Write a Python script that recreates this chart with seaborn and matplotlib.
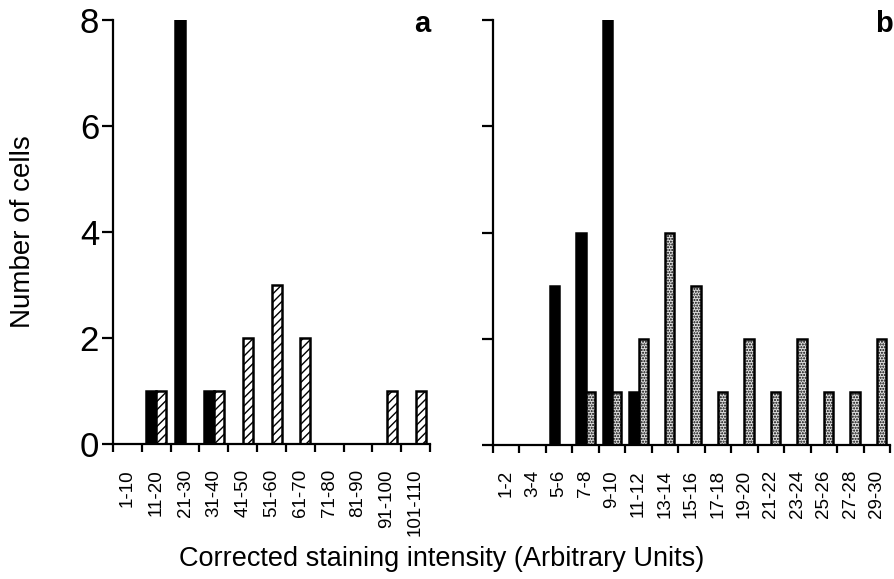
import matplotlib
matplotlib.use("Agg")
import matplotlib.pyplot as plt
import seaborn as sns
import pandas as pd
import numpy as np

# ---- data ----
bins_a = ["1-10", "11-20", "21-30", "31-40", "41-50", "51-60", "61-70",
          "71-80", "81-90", "91-100", "101-110"]
black_a = [0, 1, 8, 1, 0, 0, 0, 0, 0, 0, 0]
hatched_a = [0, 1, 0, 1, 2, 3, 2, 0, 0, 1, 1]

bins_b = ["1-2", "3-4", "5-6", "7-8", "9-10", "11-12", "13-14", "15-16",
          "17-18", "19-20", "21-22", "23-24", "25-26", "27-28", "29-30"]
black_b = [0, 0, 3, 4, 8, 1, 0, 0, 0, 0, 0, 0, 0, 0, 0]
dotted_b = [0, 0, 0, 1, 1, 2, 4, 3, 1, 2, 1, 2, 1, 1, 2]

yticks = [0, 2, 4, 6, 8]

sns.set_theme(style="ticks")
plt.rcParams['font.family'] = ['Liberation Sans', 'DejaVu Sans']
plt.rcParams['hatch.linewidth'] = 1.0
for k in ("text.color", "axes.labelcolor", "xtick.color", "ytick.color",
          "axes.edgecolor"):
    plt.rcParams[k] = "black"

W, H = 895, 579
fig = plt.figure(figsize=(W / 100, H / 100), dpi=100)


def px_axes(x0, x1, y0, y1):
    return fig.add_axes([x0 / W, 1 - y1 / H, (x1 - x0) / W, (y1 - y0) / H])


def panel(ax, bins, first, second, hatch, face2, show_ylabels):
    df = pd.DataFrame({
        "bin": bins * 2,
        "count": list(first) + list(second),
        "series": ["s1"] * len(bins) + ["s2"] * len(bins),
    })
    sns.barplot(data=df, x="bin", y="count", hue="series", order=bins,
                hue_order=["s1", "s2"], palette={"s1": "black", "s2": face2},
                width=0.7, gap=0, saturation=1, edgecolor="black",
                linewidth=1.8, errorbar=None, legend=False, ax=ax)
    for bar in ax.containers[1]:
        bar.set_hatch(hatch)
    n = len(bins)
    ax.set_xlim(-0.5, n - 0.5)
    ax.set_ylim(0, 8)
    ax.set_xticks(range(n))
    ax.set_xticklabels(bins, rotation=90, fontsize=13.5)
    ax.set_xticks(np.arange(n + 1) - 0.5, minor=True)
    ax.tick_params(axis="x", which="major", length=0, pad=18)
    ax.tick_params(axis="x", which="minor", length=6, width=1.6,
                   direction="out", color="black")
    ax.set_yticks(yticks)
    ax.tick_params(axis="y", length=8, width=1.6, direction="out",
                   labelsize=25, pad=2, color="black")
    if not show_ylabels:
        ax.set_yticklabels([])
    ax.set_xlabel("")
    ax.set_ylabel("")
    sns.despine(ax=ax)
    for s in ("left", "bottom"):
        ax.spines[s].set_linewidth(1.6)
        ax.spines[s].set_color("black")
    ax.set_facecolor("white")


ax_a = px_axes(113, 430, 20, 444)
panel(ax_a, bins_a, black_a, hatched_a, "////", "white", True)

ax_b = px_axes(493, 890, 20, 445)
panel(ax_b, bins_b, black_b, dotted_b, "......", "#dedede", False)

fig.text(430 / W, 1 - 32 / H, "a", ha="right", va="baseline",
         fontsize=21, fontweight="bold")
fig.text(893 / W, 1 - 32 / H, "b", ha="right", va="baseline",
         fontsize=21, fontweight="bold")

fig.text(23 / W, 1 - 232 / H, "Number of cells", rotation=90,
         ha="center", va="center", fontsize=20)
fig.text(442 / W, 1 - 566 / H, "Corrected staining intensity (Arbitrary Units)",
         ha="center", va="baseline", fontsize=19.5)

fig.savefig("out.png", dpi=100, facecolor="white")
